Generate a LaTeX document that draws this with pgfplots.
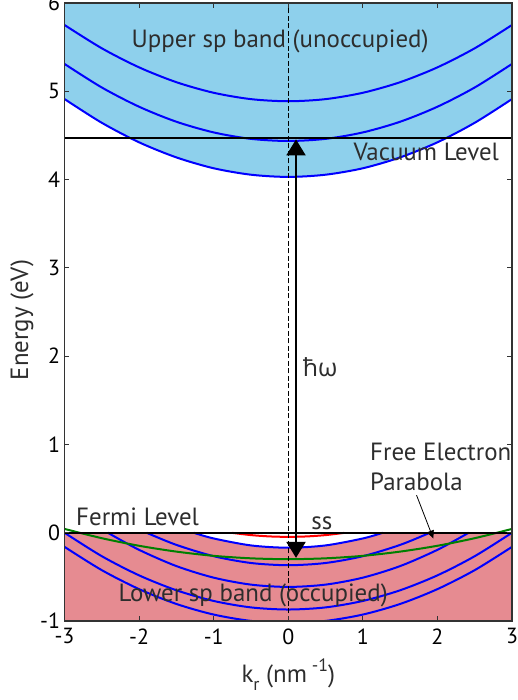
\documentclass[border=0pt]{standalone}
\usepackage{pgfplots}
\pgfplotsset{compat=1.18}
\usepackage{fontspec}
\setmainfont{PT Sans}
\newfontfamily\symfont{Open Sans}
\usetikzlibrary{arrows.meta}

\definecolor{upperband}{RGB}{142,208,236}
\definecolor{lowerband}{RGB}{230,139,145}
\definecolor{txtgray}{RGB}{45,45,45}

\begin{document}
\begin{tikzpicture}[ann/.style={font=\fontsize{25}{30}\selectfont, text=txtgray}]
\begin{axis}[
    scale only axis,
    width=447.5bp,
    height=618bp,
    xmin=-3, xmax=3,
    ymin=-1, ymax=6,
    xtick={-3,-2,-1,0,1,2,3},
    ytick={-1,0,1,2,3,4,5,6},
    tick align=inside,
    major tick length=5bp,
    axis on top,
    axis line style={line width=1.3bp, black!80},
    tick style={line width=0.8bp, black!80},
    /pgf/number format/assume math mode=true,
    ticklabel style={font=\fontsize{22}{26}\selectfont},
    xticklabel style={yshift=-4bp},
    yticklabel style={xshift=-1bp},
    label style={font=\fontsize{25}{28}\selectfont, color=txtgray},
    xlabel={k\raisebox{-8bp}{\fontsize{18}{18}\selectfont r} (nm\raisebox{11bp}{\fontsize{18}{18}\selectfont\ -1})},
    xlabel style={at={(axis description cs:0.5,0)}, anchor=base, yshift=-61bp},
    ylabel={Energy (eV)},
    ylabel style={at={(axis description cs:0,0.487)}, anchor=center, yshift=42.5bp},
    ]
% upper sp band area (above the lowest upper branch)
\addplot[draw=none, fill=upperband] coordinates {
  (-3,6) (-3,4.912) (-2.75,4.771) (-2.5,4.643) (-2.25,4.526) (-2,4.422) (-1.75,4.330)
  (-1.5,4.251) (-1.25,4.183) (-1,4.128) (-0.75,4.085) (-0.5,4.055) (-0.25,4.036) (0,4.030)
  (0.25,4.036) (0.5,4.055) (0.75,4.085) (1,4.128) (1.25,4.183) (1.5,4.251) (1.75,4.330)
  (2,4.422) (2.25,4.526) (2.5,4.643) (2.75,4.771) (3,4.912) (3,6)};
% lower sp band area (occupied, below E_F and the top branch)
\addplot[draw=none, fill=lowerband] coordinates {
  (-3,-1) (-3,0) (-1.27,0) (-1.25,-0.006) (-1,-0.065) (-0.75,-0.111) (-0.5,-0.144)
  (-0.25,-0.163) (0,-0.170) (0.25,-0.163) (0.5,-0.144) (0.75,-0.111) (1,-0.065)
  (1.25,-0.006) (1.27,0) (3,0) (3,-1)};

% upper branches
\addplot[blue, line width=2bp, smooth] coordinates {
  (-3,5.751) (-2.5,5.487) (-2,5.271) (-1.5,5.103) (-1,4.983) (-0.5,4.911) (0,4.887)
  (0.5,4.911) (1,4.983) (1.5,5.103) (2,5.271) (2.5,5.487) (3,5.751)};
\addplot[blue, line width=2bp, smooth] coordinates {
  (-3,5.310) (-2.5,5.043) (-2,4.825) (-1.5,4.655) (-1,4.534) (-0.5,4.461) (0,4.437)
  (0.5,4.461) (1,4.534) (1.5,4.655) (2,4.825) (2.5,5.043) (3,5.310)};
\addplot[blue, line width=2bp, smooth] coordinates {
  (-3,4.912) (-2.5,4.643) (-2,4.422) (-1.5,4.251) (-1,4.128) (-0.5,4.055) (0,4.030)
  (0.5,4.055) (1,4.128) (1.5,4.251) (2,4.422) (2.5,4.643) (3,4.912)};

% lower branches
\addplot[blue, line width=2bp, smooth] coordinates {
  (-1.27,0) (-1,-0.065) (-0.5,-0.144) (0,-0.170) (0.5,-0.144) (1,-0.065) (1.27,0)};
\addplot[blue, line width=2bp, smooth] coordinates {
  (-1.9,0) (-1.5,-0.138) (-1,-0.266) (-0.5,-0.343) (0,-0.368) (0.5,-0.343) (1,-0.266)
  (1.5,-0.138) (1.9,0)};
\addplot[blue, line width=2bp, smooth] coordinates {
  (-2.42,0) (-2,-0.194) (-1.5,-0.378) (-1,-0.509) (-0.5,-0.588) (0,-0.614) (0.5,-0.588)
  (1,-0.509) (1.5,-0.378) (2,-0.194) (2.42,0)};
\addplot[blue, line width=2bp, smooth] coordinates {
  (-3,0) (-2.5,-0.266) (-2,-0.483) (-1.5,-0.652) (-1,-0.773) (-0.5,-0.846) (0,-0.870)
  (0.5,-0.846) (1,-0.773) (1.5,-0.652) (2,-0.483) (2.5,-0.266) (3,0)};
\addplot[blue, line width=2bp, smooth] coordinates {
  (-3,-0.160) (-2.5,-0.424) (-2,-0.639) (-1.5,-0.807) (-1,-0.927) (-0.5,-0.999) (0,-1.023)
  (0.5,-0.999) (1,-0.927) (1.5,-0.807) (2,-0.639) (2.5,-0.424) (3,-0.160)};

% free electron parabola
\addplot[green!50!black, line width=2bp, smooth] coordinates {
  (-3,0.043) (-2.5,-0.062) (-2,-0.148) (-1.5,-0.214) (-1,-0.262) (-0.5,-0.290) (0,-0.300)
  (0.5,-0.290) (1,-0.262) (1.5,-0.214) (2,-0.148) (2.5,-0.062) (3,0.043)};
% surface state
\addplot[red, line width=2bp, smooth] coordinates {
  (-0.75,-0.002) (-0.5,-0.027) (-0.25,-0.042) (0,-0.047) (0.25,-0.042) (0.5,-0.027) (0.75,-0.002)};

% vacuum and Fermi levels
\addplot[black, line width=1.8bp] coordinates {(-3,4.471) (3,4.471)};
\addplot[black, line width=2.4bp] coordinates {(-3,0) (3,0)};
% k = 0
\addplot[black, line width=1.5bp, dash pattern=on 5bp off 2.5bp] coordinates {(0,-1) (0,6)};
% photon energy
\addplot[black, line width=2bp, {Triangle[length=16bp,width=19bp]}-{Triangle[length=16bp,width=19bp]}]
  coordinates {(0.104,-0.285) (0.104,4.455)};
\draw[black, line width=0.8bp, -{Triangle[length=8bp,width=7bp]}]
  (axis cs:1.72,0.425) -- (axis cs:1.945,-0.066);

\node[ann, anchor=base] at (axis cs:-0.11,5.498) {Upper sp band (unoccupied)};
\node[ann, anchor=base] at (axis cs:1.85,4.22) {Vacuum Level};
\node[ann, anchor=base] at (axis cs:-2.02,0.085) {Fermi Level};
\node[ann, anchor=base] at (axis cs:-0.47,-0.78) {Lower sp band (occupied)};
\node[ann, anchor=base] at (axis cs:0.45,0.036) {ss};
\node[ann, anchor=base west, inner sep=0pt] at (axis cs:0.194,1.764) {\symfont ħω};
\node[ann, anchor=base west, inner sep=0pt] at (axis cs:1.096,0.82) {Free Electron};
\node[ann, anchor=base west, inner sep=0pt] at (axis cs:1.096,0.48) {Parabola};
\end{axis}
\pgfresetboundingbox
\path ([xshift=-64.5bp,yshift=-79bp]current axis.south west)
  rectangle ([xshift=5bp,yshift=3bp]current axis.north east);
\end{tikzpicture}
\end{document}
